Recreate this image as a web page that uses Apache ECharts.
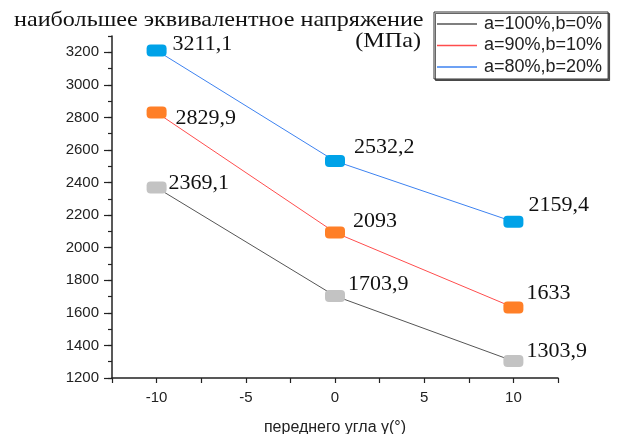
<!DOCTYPE html>
<html>
<head>
<meta charset="utf-8">
<script src="https://cdn.jsdelivr.net/npm/echarts@6/dist/echarts.min.js"></script>
<style>
  html, body { margin: 0; padding: 0; background: #fff; }
  #chart { width: 617px; height: 434px; }
</style>
</head>
<body>
<div id="chart"></div>
<script>
// Rake angle values (degrees) on the x axis
const angles = [-10, 0, 10];

// Series names
const seriesNames = ['a=100%,b=0%', 'a=90%,b=10%', 'a=80%,b=20%'];

// Maximum equivalent stress, MPa
const stressA100 = [2369.1, 1703.9, 1303.9];
const stressA90 = [2829.9, 2093, 1633];
const stressA80 = [3211.1, 2532.2, 2159.4];

// Axis tick labels
const xTickLabels = [-10, -5, 0, 5, 10];
const yTickLabels = [1200, 1400, 1600, 1800, 2000, 2200, 2400, 2600, 2800, 3000, 3200];

// Label placement next to each point: [dx, dy] from the marker centre
const labelShift = [
  [[12, -4], [13, -12], [13, -10]],
  [[19, 6], [18, -11], [13, -14]],
  [[16, -6], [19, -14], [15, -17]]
];

const lineColors = ['#555555', '#ff4d4d', '#3d82f0'];
const markerColors = ['#c3c3c3', '#ff7f27', '#00a2e8'];
const allStress = [stressA100, stressA90, stressA80];

const markerPath = 'path://M4,0H16A4,4 0 0 1 20,4V8A4,4 0 0 1 16,12H4A4,4 0 0 1 0,8V4A4,4 0 0 1 4,0Z';
const fmt = v => String(v).replace('.', ',');
const serif = '"Liberation Serif", "Times New Roman", serif';
const sans = '"Liberation Sans", Arial, sans-serif';

const chart = echarts.init(document.getElementById('chart'), null, { renderer: 'canvas' });

const series = allStress.map((vals, s) => ({
  name: seriesNames[s],
  type: 'line',
  xAxisIndex: 0,
  yAxisIndex: 0,
  symbol: markerPath,
  symbolSize: [20, 12],
  lineStyle: { color: lineColors[s], width: 1 },
  itemStyle: { color: markerColors[s], borderWidth: 0 },
  label: {
    show: true,
    position: 'right',
    distance: 0,
    color: '#111',
    fontFamily: serif,
    fontSize: 22,
    formatter: p => fmt(p.value[1])
  },
  emphasis: { disabled: true },
  animation: false,
  data: angles.map((a, i) => ({
    value: [a, vals[i]],
    label: { offset: [labelShift[s][i][0] - 10, labelShift[s][i][1]] }
  }))
}));

const axisFont = { fontFamily: sans, fontSize: 15, color: '#222' };

chart.setOption({
  animation: false,
  grid: { left: 112, right: 59, top: 36, bottom: 56, containLabel: false, outerBoundsMode: 'none' },
  xAxis: [
    {
      type: 'value', min: -12.5, max: 12.5, interval: 2.5,
      axisLine: { show: true, onZero: false, lineStyle: { color: '#222', width: 1.5 } },
      axisTick: { show: true, length: 5, lineStyle: { color: '#222', width: 1.2 } },
      axisLabel: Object.assign({ margin: 12, formatter: v => (xTickLabels.indexOf(v) >= 0 ? String(v) : '') }, axisFont),
      splitLine: { show: false },
      name: 'переднего угла γ(°)',
      nameLocation: 'middle',
      nameGap: 42,
      nameTextStyle: { fontFamily: sans, fontSize: 16, color: '#222' }
    }
  ],
  yAxis: [
    {
      type: 'value', min: 1200, max: 3300, interval: 100,
      axisLine: { show: true, onZero: false, lineStyle: { color: '#222', width: 1.5 } },
      axisTick: { show: true, length: 4, lineStyle: { color: '#222', width: 1.2 } },
      axisLabel: { show: false },
      splitLine: { show: false }
    },
    {
      type: 'value', min: 1200, max: 3300, interval: 100, position: 'left',
      axisLine: { show: false, onZero: false },
      axisTick: { show: true, length: 8, customValues: yTickLabels, lineStyle: { color: '#222', width: 1.2 } },
      axisLabel: Object.assign({ margin: 13, customValues: yTickLabels, formatter: v => String(v) }, axisFont),
      splitLine: { show: false }
    }
  ],
  legend: {
    orient: 'vertical',
    left: 434,
    top: 12,
    icon: 'rect',
    itemWidth: 40,
    itemHeight: 1.5,
    itemGap: 3.5,
    padding: [3, 6, 3, 3],
    backgroundColor: '#fff',
    borderColor: '#333',
    borderWidth: 1,
    shadowColor: 'rgba(0,0,0,0.6)',
    shadowOffsetX: 1.5,
    shadowOffsetY: 1.5,
    shadowBlur: 0,
    selectedMode: false,
    textStyle: { fontFamily: sans, fontSize: 18, color: '#222', padding: [0, 0, 0, 2] },
    data: seriesNames.map((n, s) => ({ name: n, itemStyle: { color: lineColors[s] } }))
  },
  graphic: [
    {
      type: 'text', x: 14, y: 10, scaleX: 1.15,
      style: { text: 'наибольшее эквивалентное напряжение', font: '21px ' + serif, fill: '#111', align: 'left', verticalAlign: 'top' }
    },
    {
      type: 'text', x: 421, y: 31, scaleX: 1.15,
      style: { text: '(МПа)', font: '21px ' + serif, fill: '#111', align: 'right', verticalAlign: 'top' }
    }
  ],
  series: series
});
</script>
</body>
</html>
